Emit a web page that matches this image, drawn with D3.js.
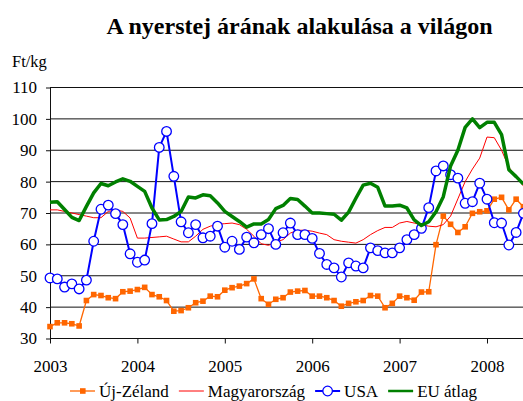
<!DOCTYPE html>
<html>
<head>
<meta charset="utf-8">
<script src="https://cdn.jsdelivr.net/npm/d3@7.9.0/dist/d3.min.js"></script>
<style>
  body { margin: 0; background: #fff; }
  svg text { font-family: "Liberation Serif", "Times New Roman", Times, "DejaVu Serif", serif; }
</style>
</head>
<body>
<svg id="chart" width="523" height="401"></svg>
<script>
// monthly prices, Jan 2003 .. Jun 2008 (Ft/kg)
const startYear = 2003;
const years = [2003, 2004, 2005, 2006, 2007, 2008];
const yTicks = [30, 40, 50, 60, 70, 80, 90, 100, 110];

const ujZeland = [
  33.8, 35.0, 35.0, 34.7, 34.0, 42.1, 44.0, 43.7, 43.0, 42.7, 44.9, 45.1,
  45.6, 46.3, 44.0, 43.3, 42.1, 38.7, 38.9, 39.8, 41.4, 41.9, 43.5, 43.3,
  45.4, 46.2, 46.7, 47.5, 49.0, 42.7, 40.9, 42.5, 43.0, 44.8, 45.1, 45.3,
  43.5, 43.5, 43.0, 42.1, 40.3, 41.2, 41.7, 42.1, 43.7, 43.5, 39.8, 41.2,
  43.5, 43.0, 42.2, 44.8, 44.9, 59.9, 69.0, 66.4, 63.8, 65.6, 69.9, 70.4,
  70.7, 74.4, 75.0, 71.0, 74.4, 72.0
];
const magyarorszag = [
  71.0, 71.0, 70.5, 70.0, 69.5, 69.0, 68.5, 68.5, 70.5, 71.0, 70.5, 68.4,
  62.0, 62.0, 62.2, 62.4, 62.6, 61.7, 60.8, 60.8, 62.6, 64.8, 65.8, 66.4,
  66.6, 66.8, 66.3, 64.8, 62.6, 60.2, 59.7, 60.7, 61.5, 63.6, 64.5, 64.5,
  64.2, 63.6, 63.1, 61.5, 61.0, 60.7, 60.4, 61.5, 63.1, 64.4, 65.4, 65.4,
  66.8, 67.3, 66.8, 66.3, 65.8, 65.6, 66.3, 69.0, 74.5, 80.0, 84.0, 87.5,
  94.2, 94.0, 90.0, 84.6, 81.6, 78.6
];
const usa = [
  49.3, 49.0, 46.4, 47.4, 45.8, 48.6, 61.0, 71.2, 72.5, 69.8, 66.3, 57.0,
  54.3, 55.0, 66.6, 90.9, 96.0, 81.7, 67.2, 63.7, 66.3, 62.1, 62.6, 65.8,
  59.1, 61.0, 58.4, 62.3, 60.5, 63.1, 65.0, 60.0, 63.7, 66.8, 63.1, 63.1,
  61.9, 57.1, 53.6, 52.5, 49.6, 54.1, 53.1, 52.5, 58.9, 58.0, 57.3, 57.3,
  58.9, 61.5, 63.1, 65.1, 71.7, 83.4, 85.0, 82.2, 81.1, 73.1, 73.6, 79.5,
  74.4, 66.9, 66.8, 59.8, 63.8, 69.9
];
const euAtlag = [
  73.4, 73.6, 71.1, 68.6, 67.6, 72.1, 76.4, 79.4, 78.7, 79.9, 80.9, 80.1,
  78.5, 76.9, 71.6, 67.8, 67.9, 68.9, 70.5, 75.1, 74.8, 75.8, 75.5, 73.2,
  70.5, 68.9, 67.3, 65.5, 66.5, 66.5, 67.9, 71.4, 72.4, 74.6, 74.3, 72.2,
  70.0, 70.0, 69.8, 69.6, 67.7, 70.3, 74.7, 78.9, 79.5, 78.2, 72.2, 72.2,
  72.5, 71.6, 67.8, 66.0, 67.2, 70.4, 75.2, 85.0, 90.0, 97.3, 100.0, 97.2,
  98.9, 98.9, 95.0, 83.8, 81.6, 79.2
];

const series = [
  { name: "Új-Zéland", values: ujZeland, color: "#ff6600", width: 1.3, marker: "square" },
  { name: "Magyarország", values: magyarorszag, color: "#ff0000", width: 1, marker: null },
  { name: "USA", values: usa, color: "#0000ff", width: 2, marker: "circle" },
  { name: "EU átlag", values: euAtlag, color: "#008000", width: 3.5, marker: null }
];

const svg = d3.select("#chart");
const x = d3.scaleLinear().domain([2003, 2008]).range([50, 487]);
const y = d3.scaleLinear().domain([30, 110]).range([338.5, 87.5]);
const xRight = 540;

// title + unit
svg.append("text")
  .attr("x", 299.5).attr("y", 34)
  .attr("text-anchor", "middle")
  .attr("font-size", 24).attr("font-weight", "bold")
  .text("A nyerstej árának alakulása a világon");
svg.append("text")
  .attr("x", 12).attr("y", 67)
  .attr("font-size", 16.5)
  .text("Ft/kg");

// grid
svg.append("g")
  .selectAll("line")
  .data(yTicks.filter(d => d > 30))
  .join("line")
  .attr("x1", 50).attr("x2", xRight)
  .attr("y1", d => y(d)).attr("y2", d => y(d))
  .attr("stroke", "#111").attr("stroke-width", 1);

// axes
const yAxis = svg.append("g")
  .attr("transform", "translate(50,0)")
  .call(d3.axisLeft(y).tickValues(yTicks).tickSize(4).tickPadding(9).tickSizeOuter(0));
const xAxis = svg.append("g")
  .attr("transform", `translate(0,${y(30)})`)
  .call(d3.axisBottom(x).tickValues(years).tickFormat(d3.format("d"))
    .tickSize(5).tickPadding(16).tickSizeOuter(0));
xAxis.select(".domain").attr("d", `M50,0H${xRight}`);
[yAxis, xAxis].forEach(g => {
  g.attr("font-family", null).attr("font-size", 17);
  g.select(".domain").attr("stroke", "#111");
  g.selectAll(".tick line").attr("stroke", "#111");
  g.selectAll(".tick text").attr("fill", "#000");
});

// series
const xm = i => x(startYear + i / 12);
const line = d3.line().x((d, i) => xm(i)).y(d => y(d));

series.forEach(s => {
  const g = svg.append("g");
  g.append("path")
    .datum(s.values)
    .attr("d", line)
    .attr("fill", "none")
    .attr("stroke", s.color)
    .attr("stroke-width", s.width)
    .attr("stroke-linejoin", "round");
  if (s.marker === "square") {
    g.selectAll("rect")
      .data(s.values)
      .join("rect")
      .attr("x", (d, i) => xm(i) - 2.8).attr("y", d => y(d) - 2.8)
      .attr("width", 5.6).attr("height", 5.6)
      .attr("fill", s.color);
  } else if (s.marker === "circle") {
    g.selectAll("circle")
      .data(s.values)
      .join("circle")
      .attr("cx", (d, i) => xm(i)).attr("cy", d => y(d))
      .attr("r", 4.8)
      .attr("fill", "#fff")
      .attr("stroke", s.color)
      .attr("stroke-width", 1.3);
  }
});

// legend
const legend = svg.append("g").attr("transform", "translate(0,391)");
let lx = 70;
series.forEach(s => {
  const item = legend.append("g").attr("transform", `translate(${lx},0)`);
  item.append("line")
    .attr("x1", 0).attr("x2", 25)
    .attr("stroke", s.color)
    .attr("stroke-width", Math.min(s.width, 2.5));
  if (s.marker === "square") {
    item.append("rect").attr("x", 10).attr("y", -2.8)
      .attr("width", 5.6).attr("height", 5.6).attr("fill", s.color);
  } else if (s.marker === "circle") {
    item.append("circle").attr("cx", 12.5).attr("r", 4.8)
      .attr("fill", "#fff").attr("stroke", s.color).attr("stroke-width", 1.3);
  }
  const t = item.append("text")
    .attr("x", 29).attr("y", 5.7)
    .attr("font-size", 17)
    .text(s.name);
  lx += 29 + t.node().getComputedTextLength() + 10;
});
</script>
</body>
</html>
